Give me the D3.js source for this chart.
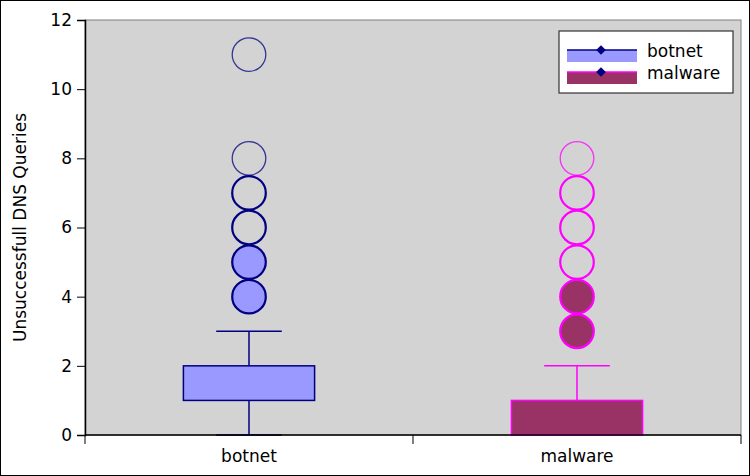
<!DOCTYPE html>
<html>
<head>
<meta charset="utf-8">
<style>
  body { margin: 0; background: #fff; }
  text { font-family: "DejaVu Sans", sans-serif; fill: #000; }
</style>
</head>
<body>
<div id="chart"></div>
<script src="https://cdn.jsdelivr.net/npm/d3@7"></script>
<script>
// data
var categories = ["botnet", "malware"];
var whiskerLow = [0, 0];
var q1 = [1, 0];
var q3 = [2, 1];
var whiskerHigh = [3, 2];
var botnetOutliers = [4, 5, 6, 7, 8, 11];
var botnetCounts = [5, 4, 3, 2, 1, 1];
var malwareOutliers = [3, 4, 5, 6, 7, 8];
var malwareCounts = [6, 4, 3, 2, 2, 1];
var yTicks = [0, 2, 4, 6, 8, 10, 12];

var fills = ["#9999ff", "#993366"];
var strokes = ["#000080", "#ff00ff"];

var W = 750, H = 476;
var m = {top: 20, right: 9, bottom: 41, left: 85};

var svg = d3.select("#chart").append("svg")
  .attr("width", W).attr("height", H);

// outer frame
svg.append("rect").attr("x", 0.5).attr("y", 0.5)
  .attr("width", W - 1).attr("height", H - 1)
  .attr("fill", "#fff").attr("stroke", "#000");

var x = d3.scaleBand().domain(categories).range([m.left, W - m.right]);
var y = d3.scaleLinear().domain([0, 12]).range([H - m.bottom, m.top]);

var g = svg.append("g");

// plot area
g.append("rect")
  .attr("x", m.left).attr("y", m.top)
  .attr("width", W - m.right - m.left).attr("height", H - m.bottom - m.top)
  .attr("fill", "#d3d3d3").attr("stroke", "#808080");

var boxW = x.bandwidth() * 0.4;
var capW = x.bandwidth() * 0.2;

categories.forEach(function(c, i) {
  var cx = x(c) + x.bandwidth() / 2;
  // whiskers
  g.append("line").attr("x1", cx).attr("x2", cx)
    .attr("y1", y(whiskerLow[i])).attr("y2", y(whiskerHigh[i]))
    .attr("stroke", strokes[i]).attr("stroke-width", 1.5);
  [whiskerLow[i], whiskerHigh[i]].forEach(function(v) {
    g.append("line").attr("x1", cx - capW / 2).attr("x2", cx + capW / 2)
      .attr("y1", y(v)).attr("y2", y(v))
      .attr("stroke", strokes[i]).attr("stroke-width", 1.5);
  });
  // box
  g.append("rect")
    .attr("x", cx - boxW / 2).attr("y", y(q3[i]))
    .attr("width", boxW).attr("height", y(q1[i]) - y(q3[i]))
    .attr("fill", fills[i]).attr("stroke", strokes[i]).attr("stroke-width", 1.5);
});

// outliers: overlapping points drawn heavier, dense ones filled
function drawOutliers(vals, counts, i) {
  var cx = x(categories[i]) + x.bandwidth() / 2;
  var r = (y(0) - y(1)) / 2 - 0.5;
  g.selectAll(null).data(vals).enter().append("circle")
    .attr("cx", cx)
    .attr("cy", function(d) { return y(d); })
    .attr("r", r)
    .attr("fill", function(d, k) { return counts[k] >= 4 ? fills[i] : "none"; })
    .attr("stroke", strokes[i])
    .attr("stroke-opacity", function(d, k) { return counts[k] == 1 ? 0.75 : 1; })
    .attr("stroke-width", function(d, k) { return counts[k] == 1 ? 1.3 : 2.2; });
}
drawOutliers(botnetOutliers, botnetCounts, 0);
drawOutliers(malwareOutliers, malwareCounts, 1);

// y axis
var yAxis = g.append("g").attr("transform", "translate(" + m.left + ",0)")
  .call(d3.axisLeft(y).tickValues(yTicks).tickSize(8).tickPadding(5));
yAxis.select(".domain").attr("stroke", "#000").attr("stroke-width", 1.5);
yAxis.selectAll("line").attr("stroke", "#000");
yAxis.selectAll("text").style("font-size", "17px").style("font-family", "DejaVu Sans");

// x axis with ticks at band edges
var xAxisG = g.append("g").attr("transform", "translate(0," + y(0) + ")");
xAxisG.append("line").attr("x1", m.left).attr("x2", W - m.right)
  .attr("stroke", "#000").attr("stroke-width", 1.5);
var edges = categories.map(function(c) { return x(c); }).concat([W - m.right]);
xAxisG.selectAll(null).data(edges).enter().append("line")
  .attr("x1", function(d) { return d; }).attr("x2", function(d) { return d; })
  .attr("y1", 0).attr("y2", 9).attr("stroke", "#000");
xAxisG.selectAll(null).data(categories).enter().append("text")
  .attr("x", function(d) { return x(d) + x.bandwidth() / 2; })
  .attr("y", 27).attr("text-anchor", "middle")
  .style("font-size", "17px").text(function(d) { return d; });

// y title
svg.append("text")
  .attr("transform", "translate(26," + (m.top + (H - m.bottom - m.top) / 2) + ") rotate(-90)")
  .attr("text-anchor", "middle").style("font-size", "17px")
  .text("Unsuccessfull DNS Queries");

// legend
var lg = svg.append("g").attr("transform", "translate(559,31)");
lg.append("rect").attr("width", 174).attr("height", 62)
  .attr("fill", "#fff").attr("stroke", "#333").attr("stroke-width", 1.2);
categories.forEach(function(c, i) {
  var yy = 19 + i * 22;
  lg.append("rect").attr("x", 8).attr("y", yy).attr("width", 70).attr("height", 12)
    .attr("fill", fills[i]);
  lg.append("line").attr("x1", 8).attr("x2", 78).attr("y1", yy).attr("y2", yy)
    .attr("stroke", strokes[i]).attr("stroke-width", 1.5);
  lg.append("path")
    .attr("d", d3.symbol().type(d3.symbolDiamond2).size(60)())
    .attr("transform", "translate(42," + yy + ")")
    .attr("fill", "#000080");
  lg.append("text").attr("x", 88).attr("y", yy + 7).style("font-size", "17px").text(c);
});
</script>
</body>
</html>
